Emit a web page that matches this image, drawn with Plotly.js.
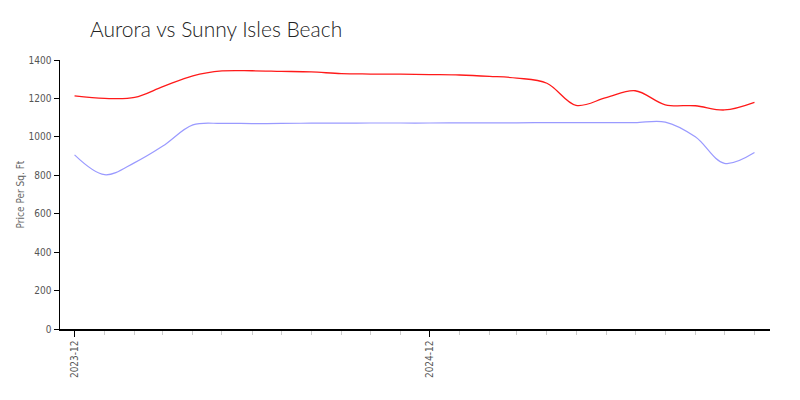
<!DOCTYPE html>
<html>
<head>
<meta charset="utf-8">
<script src="https://cdn.plot.ly/plotly-3.0.1.min.js"></script>
<style>html,body{margin:0;padding:0;background:#fff}#chart{width:800px;height:400px}</style>
</head>
<body>
<div id="chart"></div>
<script>
const months = ["2023-12-01","2024-01-01","2024-02-01","2024-03-01","2024-04-01","2024-05-01","2024-06-01","2024-07-01","2024-08-01","2024-09-01","2024-10-01","2024-11-01","2024-12-01","2025-01-01","2025-02-01","2025-03-01","2025-04-01","2025-05-01","2025-06-01","2025-07-01","2025-08-01","2025-09-01","2025-10-01","2025-11-01"];
const sunnyIsles = [1213,1200,1205,1261,1318,1343,1344,1341,1338,1329,1327,1326,1324,1322,1315,1306,1279,1164,1204,1240,1167,1162,1140,1180];
const aurora = [906,803,866,952,1062,1070,1069,1070,1071,1071,1072,1072,1072,1073,1073,1073,1074,1074,1074,1074,1077,1000,862,918];
const seriesNames = ["Sunny Isles Beach","Aurora"];

const fontFam = "Lato, 'Open Sans', sans-serif";
const tickFam = "'DejaVu Sans Condensed', 'Liberation Sans Narrow', sans-serif";
const traces = [
  {x: months, y: sunnyIsles, name: seriesNames[0], type: 'scatter', mode: 'lines',
   line: {color: '#ff1a1a', width: 1.3, shape: 'spline', smoothing: 1}},
  {x: months, y: aurora, name: seriesNames[1], type: 'scatter', mode: 'lines',
   line: {color: '#9a9aff', width: 1.2, shape: 'spline', smoothing: 1}}
];
const layout = {
  width: 800, height: 400,
  margin: {l: 60, r: 30, t: 60, b: 71},
  paper_bgcolor: '#fff', plot_bgcolor: '#fff',
  showlegend: false,
  font: {family: fontFam, color: '#555', size: 11, weight: 300},
  title: {text: 'Aurora vs Sunny Isles Beach', x: 0.1125, xanchor: 'left', xref: 'container',
          y: 0.925, yanchor: 'middle', yref: 'container',
          font: {family: fontFam, size: 21, color: '#222', weight: 300}},
  xaxis: {
    type: 'date', range: ['2023-11-16', '2025-11-17'],
    tick0: '2023-12-01', dtick: 'M12', tickformat: '%Y-%m', tickangle: -90,
    ticks: 'outside', ticklen: 6, tickcolor: '#000', tickwidth: 1,
    showline: true, linecolor: '#000', linewidth: 1.5, showgrid: false, zeroline: false,
    tickfont: {size: 10, color: '#555', family: tickFam, weight: 300},
    minor: {ticks: 'outside', dtick: 'M1', tick0: '2023-12-01', ticklen: 4, tickcolor: '#ccc', showgrid: false}
  },
  yaxis: {
    range: [0, 1400], dtick: 200, ticks: 'outside', ticklen: 5, tickcolor: '#000',
    showline: true, linecolor: '#000', linewidth: 1.5, showgrid: false, zeroline: false,
    tickfont: {size: 10, color: '#555', family: tickFam, weight: 300},
    title: {text: 'Price Per Sq. Ft', standoff: 2, font: {size: 10, color: '#666', family: tickFam, weight: 300}}
  }
};
Plotly.newPlot('chart', traces, layout, {displayModeBar: false, staticPlot: true});
</script>
</body>
</html>
